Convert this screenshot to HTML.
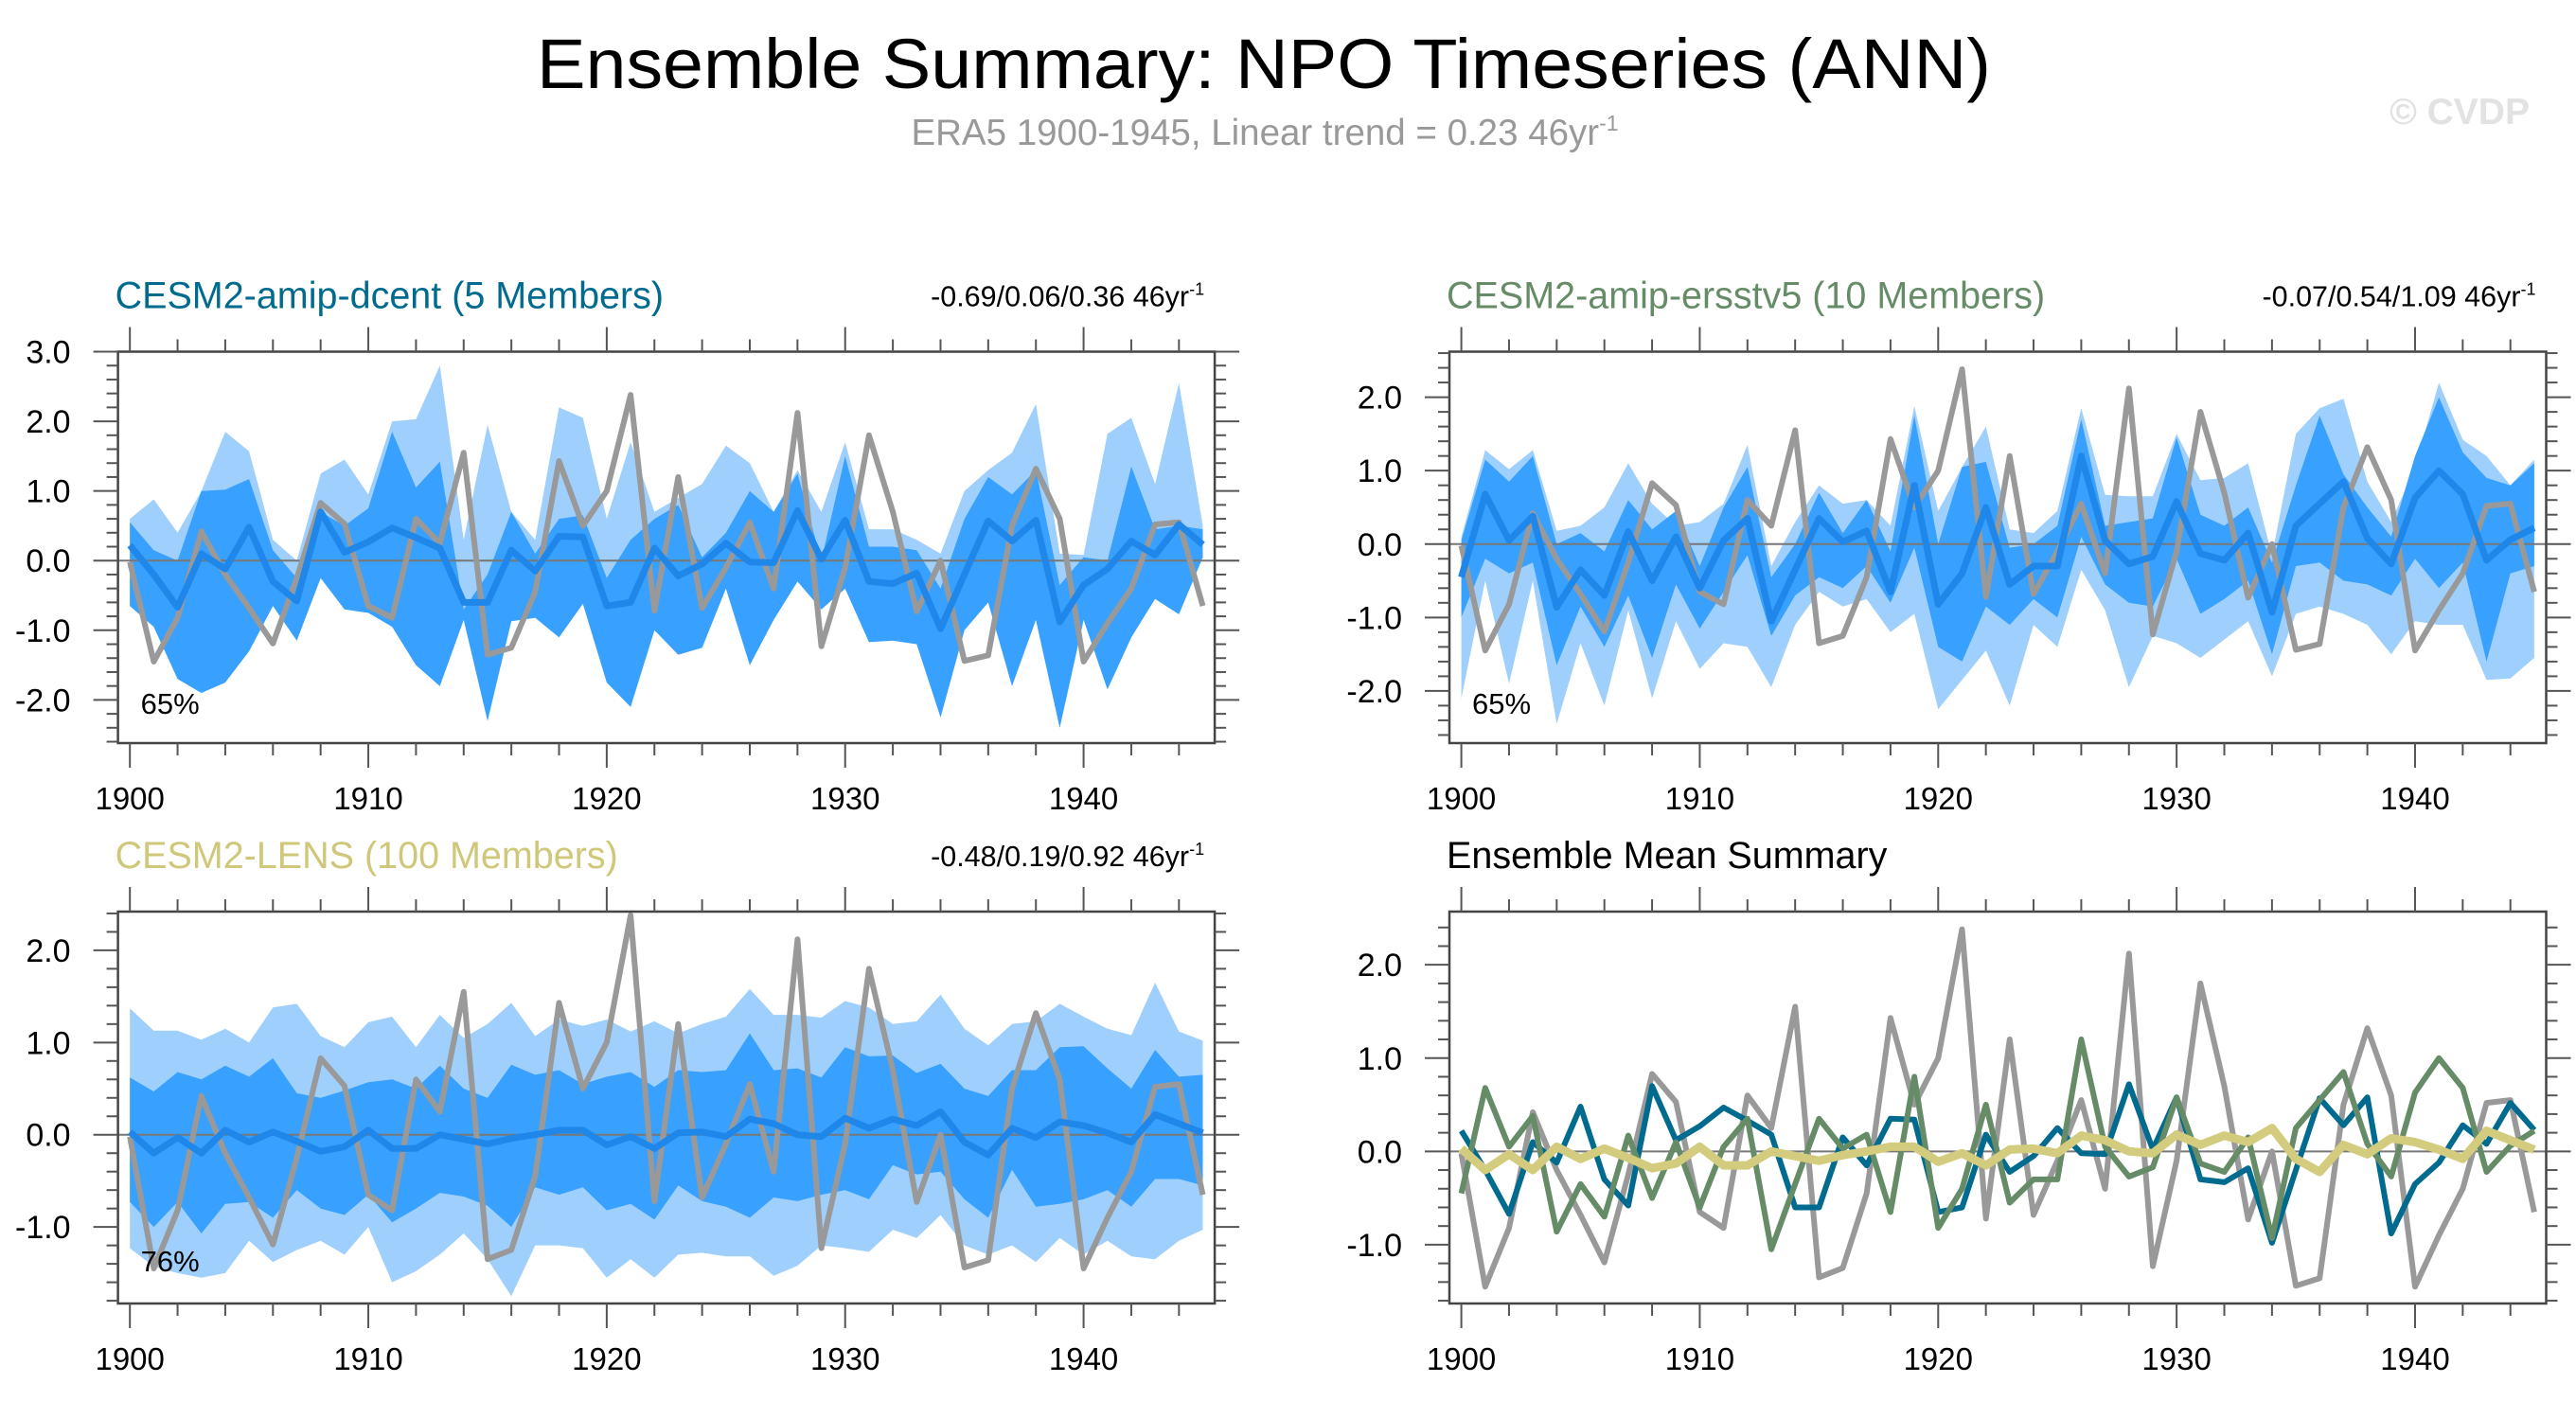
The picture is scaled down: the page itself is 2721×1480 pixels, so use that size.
<!DOCTYPE html>
<html><head><meta charset="utf-8">
<style>
html,body{margin:0;padding:0;background:#fff;}
svg{display:block;font-family:"Liberation Sans",Arial,sans-serif;}
</style></head>
<body>
<svg id="fig" width="2721" height="1480" viewBox="0 0 2721 1480" xmlns="http://www.w3.org/2000/svg">
<rect x="0" y="0" width="2721" height="1480" fill="#fff"/>
<text x="1335" y="93" font-size="74" text-anchor="middle" textLength="1536" lengthAdjust="spacingAndGlyphs" fill="#000">Ensemble Summary: NPO Timeseries (ANN)</text>
<text x="1336" y="153" font-size="38.5" text-anchor="middle" fill="#999">ERA5 1900-1945, Linear trend = 0.23 46yr<tspan dy="-15" font-size="23">-1</tspan></text>
<text x="2672" y="131" font-size="39" font-weight="bold" text-anchor="end" fill="#e2e2e2">© CVDP</text>
<g id="panels"></g>
</svg>
<script>
// ---------- data ----------
const years = [1900,1901,1902,1903,1904,1905,1906,1907,1908,1909,1910,1911,1912,1913,1914,1915,1916,1917,1918,1919,1920,1921,1922,1923,1924,1925,1926,1927,1928,1929,1930,1931,1932,1933,1934,1935,1936,1937,1938,1939,1940,1941,1942,1943,1944,1945];
const era5 = [-0.02,-1.45,-0.82,0.42,-0.2,-0.68,-1.19,-0.25,0.83,0.53,-0.65,-0.82,0.6,0.25,1.55,-1.35,-1.25,-0.45,1.43,0.5,1.0,2.38,-0.72,1.2,-0.68,-0.1,0.55,-0.4,2.12,-1.23,-0.1,1.8,0.7,-0.73,0.0,-1.44,-1.36,0.5,1.32,0.6,-1.45,-0.9,-0.4,0.52,0.55,-0.65];
const dcentMean = [0.22,-0.2,-0.67,0.1,-0.12,0.48,-0.3,-0.58,0.7,0.12,0.27,0.47,0.33,0.18,-0.6,-0.6,0.15,-0.15,0.35,0.34,-0.65,-0.6,0.18,-0.22,-0.05,0.25,-0.02,-0.03,0.72,0.02,0.58,-0.3,-0.33,-0.18,-0.98,-0.2,0.57,0.28,0.58,-0.88,-0.35,-0.12,0.28,0.08,0.52,0.23];
const dcentOuterHi = [0.6,0.88,0.4,1.0,1.85,1.57,0.3,0.0,1.25,1.45,0.95,2.0,2.03,2.8,0.3,1.95,0.7,0.3,2.2,2.05,0.6,1.7,0.7,0.9,1.1,1.65,1.4,0.7,1.3,0.7,1.7,0.45,0.45,0.3,0.1,1.0,1.3,1.55,2.25,0.1,0.08,1.82,2.05,1.1,2.55,0.5];
const dcentInnerHi = [0.55,0.15,0.0,1.0,1.02,1.17,0.15,-0.25,0.7,0.5,0.75,1.85,1.05,1.42,-0.7,-0.2,0.7,0.1,0.6,0.65,-0.25,0.3,0.6,0.8,0.05,0.4,1.0,0.7,1.25,0.0,1.5,0.2,0.2,0.15,-0.4,0.6,1.2,0.95,1.3,-0.35,0.05,0.0,1.35,0.45,0.5,0.45];
const dcentInnerLo = [-0.65,-0.95,-1.7,-1.9,-1.75,-1.3,-0.65,-1.15,-0.25,-0.7,-0.75,-0.95,-1.5,-1.8,-0.85,-2.3,-0.87,-0.82,-1.1,-0.62,-1.75,-2.1,-1.0,-1.35,-1.25,-0.4,-1.5,-0.85,-0.3,-0.7,-0.4,-1.17,-1.15,-1.2,-2.25,-1.0,-0.6,-1.8,-0.85,-2.4,-0.85,-1.85,-1.1,-0.55,-0.77,0.05];
const dcentOuterLo = [-0.65,-0.95,-1.7,-1.9,-1.75,-1.3,-0.65,-1.15,-0.25,-0.7,-0.75,-0.95,-1.5,-1.8,-0.85,-2.3,-0.87,-0.82,-1.1,-0.62,-1.75,-2.1,-1.0,-1.35,-1.25,-0.4,-1.5,-0.85,-0.3,-0.7,-0.4,-1.17,-1.15,-1.2,-2.25,-1.0,-0.6,-1.8,-0.85,-2.4,-0.85,-1.85,-1.1,-0.55,-0.77,0.05];
const ersstMean = [-0.45,0.68,0.05,0.38,-0.86,-0.35,-0.7,0.17,-0.5,0.1,-0.6,0.05,0.35,-1.05,-0.35,0.35,0.03,0.18,-0.65,0.8,-0.82,-0.4,0.5,-0.55,-0.3,-0.3,1.2,0.05,-0.27,-0.17,0.58,-0.13,-0.22,0.15,-0.93,0.25,0.55,0.85,0.08,-0.27,0.63,1.0,0.68,-0.22,0.06,0.22];
const ersstOuterHi = [0.1,1.28,1.02,1.28,0.18,0.25,0.5,1.1,0.55,0.25,0.3,0.55,1.35,-0.3,0.3,0.8,0.55,0.6,0.25,1.88,0.45,1.05,1.6,0.2,0.15,0.45,1.85,0.67,0.65,0.65,1.5,0.87,0.9,1.1,-0.15,1.5,1.85,1.98,0.85,0.3,1.05,2.2,1.42,1.2,0.8,1.15];
const ersstOuterLo = [-2.1,-0.5,-1.9,-0.5,-2.45,-1.35,-2.2,-0.9,-2.1,-1.05,-1.7,-1.35,-1.4,-1.95,-1.1,-0.65,-0.85,-0.75,-1.2,-0.95,-2.25,-1.85,-1.45,-2.2,-1.1,-1.4,-0.35,-0.9,-1.95,-1.25,-1.35,-1.55,-1.3,-1.05,-1.8,-0.95,-0.85,-0.95,-1.1,-1.5,-1.05,-1.1,-1.1,-1.85,-1.83,-1.55];
const ersstInnerHi = [0.05,1.15,0.85,1.2,0.0,0.15,-0.1,0.6,0.2,0.45,-0.3,0.5,1.05,-0.45,0.0,0.7,0.15,0.6,-0.1,1.75,0.0,1.05,1.12,-0.05,0.0,0.25,1.7,0.25,0.3,0.35,1.45,0.4,0.25,0.5,-0.25,0.8,1.75,0.95,0.5,0.1,1.2,2.0,1.25,0.9,0.8,1.1];
const ersstInnerLo = [-1.0,-0.2,-0.4,-0.25,-1.65,-0.85,-1.4,-0.7,-1.55,-0.55,-1.15,-0.65,-0.15,-1.25,-0.7,-0.45,-0.6,-0.3,-0.8,-0.05,-1.4,-1.6,-0.85,-1.1,-0.75,-1.0,0.1,-0.55,-0.8,-0.85,-0.2,-0.95,-0.75,-0.5,-1.5,-0.3,-0.25,-0.5,-0.55,-0.7,-0.2,-0.6,-0.25,-1.6,-0.4,-0.3];
const lensMean = [0.03,-0.2,-0.03,-0.2,0.05,-0.08,0.03,-0.07,-0.18,-0.13,0.05,-0.15,-0.15,0.0,-0.05,-0.1,-0.04,0.0,0.05,0.05,-0.11,-0.02,-0.15,0.02,0.03,-0.02,0.17,0.12,0.0,-0.02,0.18,0.07,0.17,0.1,0.25,-0.08,-0.22,0.07,-0.03,0.14,0.1,0.02,-0.08,0.22,0.12,0.02];
const lensOuterHi = [1.37,1.13,1.13,1.03,1.15,1.0,1.38,1.42,1.07,0.95,1.22,1.28,0.95,1.3,1.05,1.2,1.43,1.07,1.25,1.18,1.25,1.12,1.23,1.1,1.2,1.28,1.58,1.3,1.3,1.27,1.45,1.38,1.2,1.23,1.52,1.15,0.97,1.2,1.23,1.42,1.28,1.15,1.08,1.65,1.12,1.02];
const lensOuterLo = [-1.23,-1.43,-1.5,-1.55,-1.5,-1.15,-1.38,-1.25,-1.15,-1.3,-1.0,-1.6,-1.48,-1.3,-1.07,-1.35,-1.75,-1.2,-1.2,-1.23,-1.55,-1.35,-1.55,-1.3,-1.28,-1.32,-1.32,-1.53,-1.42,-1.2,-1.23,-1.27,-1.03,-1.12,-0.87,-1.2,-1.3,-1.2,-1.38,-1.12,-1.3,-1.15,-1.32,-1.35,-1.15,-1.03];
const lensInnerHi = [0.62,0.47,0.68,0.6,0.75,0.63,0.83,0.45,0.4,0.48,0.57,0.6,0.5,0.75,0.5,0.4,0.76,0.65,0.7,0.55,0.63,0.68,0.52,0.7,0.68,0.7,1.1,0.7,0.72,0.62,0.95,0.85,0.86,0.67,0.77,0.5,0.42,0.7,0.7,0.95,0.96,0.72,0.5,0.92,0.63,0.65];
const lensInnerLo = [-0.73,-1.0,-0.73,-1.07,-0.75,-0.73,-0.9,-0.6,-0.8,-0.87,-0.65,-0.95,-0.8,-0.63,-0.67,-0.77,-1.0,-0.57,-0.65,-0.57,-0.82,-0.75,-0.92,-0.55,-0.72,-0.78,-0.9,-0.68,-0.72,-0.65,-0.6,-0.7,-0.33,-0.43,-0.4,-0.7,-0.9,-0.38,-0.78,-0.75,-0.7,-0.6,-0.78,-0.48,-0.48,-0.55];
const xTickLabels = ["1900","1910","1920","1930","1940"];
const yLabelsP1 = ["3.0","2.0","1.0","0.0","-1.0","-2.0"];
const yLabelsP2 = ["2.0","1.0","0.0","-1.0","-2.0"];
const yLabelsP3 = ["2.0","1.0","0.0","-1.0"];
const yLabelsP4 = ["2.0","1.0","0.0","-1.0"];

// ---------- drawing ----------
const NS = "http://www.w3.org/2000/svg";
const root = document.getElementById("panels");
function mk(tag, attrs, parent){
  const e = document.createElementNS(NS, tag);
  for (const k in attrs) e.setAttribute(k, attrs[k]);
  (parent || root).appendChild(e);
  return e;
}
const C_LIGHT = "#9fd0fd", C_DARK = "#38a0fe", C_MEAN = "#1f87ea", C_ERA = "#999999";

function panel(p){
  const g = mk("g", {});
  
  
  const X = yr => p.x0 + (yr - 1899.5) / 46 * p.w;
  const Y = v => p.y0 + (p.ymax - v) / (p.ymax - p.ymin) * p.h;
  const line = arr => years.map((yr,i)=>X(yr).toFixed(1)+","+Y(arr[i]).toFixed(1)).join(" ");
  const band = (hi, lo) => years.map((yr,i)=>X(yr).toFixed(1)+","+Y(hi[i]).toFixed(1)).concat(
    years.slice().reverse().map((yr,j)=>{const i=years.length-1-j; return X(yr).toFixed(1)+","+Y(lo[i]).toFixed(1);})).join(" ");
  const cp = mk("clipPath", {id:"clip-"+p.name}, g);
  mk("rect", {x:p.x0, y:p.y0, width:p.w, height:p.h}, cp);
  const plot = mk("g", {"clip-path":"url(#clip-"+p.name+")"}, g);
  if (p.outerHi){
    const e = mk("polygon", {points: band(p.outerHi, p.outerLo), fill: C_LIGHT}, plot);
    
    
    const d = mk("polygon", {points: band(p.innerHi, p.innerLo), fill: C_DARK}, plot);
    
    
  }
  const z = mk("line", {x1:p.x0, x2:p.x0+p.w, y1:Y(0), y2:Y(0), stroke:"#777", "stroke-width":2}, plot);
  
  
  p.series.forEach(s=>{
    const l = mk("polyline", {points: line(s.data), fill:"none", stroke:s.color, "stroke-width":s.w, "stroke-linejoin":"round"}, plot);
    
    
  });
  const box = mk("rect", {x:p.x0, y:p.y0, width:p.w, height:p.h, fill:"none", stroke:"#444", "stroke-width":2.5}, g);
  
  
  for (let yr=1900; yr<=1944; yr+=2){
    const major = yr % 10 === 0;
    const L = major ? 26 : 13;
    const t1 = mk("line", {x1:X(yr), x2:X(yr), y1:p.y0, y2:p.y0-L, stroke:"#555", "stroke-width":2}, g);
    
    
    const t2 = mk("line", {x1:X(yr), x2:X(yr), y1:p.y0+p.h, y2:p.y0+p.h+L, stroke:"#555", "stroke-width":2}, g);
    
    
  }
  xTickLabels.forEach(lbl=>{
    const t = mk("text", {x:X(+lbl), y:p.y0+p.h+70, "font-size":33, "text-anchor":"middle", fill:"#000"}, g);
    t.textContent = lbl;
    
    
  });
  for (let k=Math.ceil(p.ymin/0.2 - 1e-6); k*0.2 <= p.ymax + 1e-6; k++){
    const v = k*0.2;
    const major = Math.abs(v - Math.round(v)) < 1e-6;
    const L = major ? 26 : 12;
    const a = mk("line", {x1:p.x0, x2:p.x0-L, y1:Y(v), y2:Y(v), stroke:"#555", "stroke-width":2}, g);
    
    
    const b = mk("line", {x1:p.x0+p.w, x2:p.x0+p.w+L, y1:Y(v), y2:Y(v), stroke:"#555", "stroke-width":2}, g);
    
    
  }
  p.yLabels.forEach(lbl=>{
    const t = mk("text", {x:p.x0-50, y:Y(parseFloat(lbl))+12, "font-size":34, "text-anchor":"end", fill:"#000"}, g);
    t.textContent = lbl;
    
    
  });
  const title = mk("text", {x:p.x0-3, y:p.y0-46, "font-size":39.5, fill:p.titleColor}, g);
  title.textContent = p.title;
  
  
  if (p.stats){
    const st = mk("text", {x:p.x0+p.w-11, y:p.y0-48, "font-size":30.5, "text-anchor":"end", fill:"#000"}, g);
    st.textContent = p.stats;
    const sup = mk("tspan", {dy:-12, "font-size":18}, st);
    sup.textContent = "-1";
    
    
  }
  if (p.pct){
    const pt = mk("text", {x:p.x0+24, y:p.pctY, "font-size":31, fill:"#000"}, g);
    pt.textContent = p.pct;
    
    
  }
}

panel({name:"panel-cesm2-amip-dcent", x0:124.6, y0:371.5, w:1158.5, h:413.5, ymin:-2.62, ymax:3.0,
  yLabels:yLabelsP1, title:"CESM2-amip-dcent (5 Members)", titleColor:"#006b8f", stats:"-0.69/0.06/0.36 46yr",
  outerHi:dcentOuterHi, outerLo:dcentOuterLo, innerHi:dcentInnerHi, innerLo:dcentInnerLo, pct:"65%", pctY:754,
  series:[{name:"era5-line", data:era5, color:C_ERA, w:6},{name:"ensemble-mean-line", data:dcentMean, color:C_MEAN, w:7}]});
panel({name:"panel-cesm2-amip-ersstv5", x0:1531, y0:371.5, w:1158.5, h:413.5, ymin:-2.71, ymax:2.62,
  yLabels:yLabelsP2, title:"CESM2-amip-ersstv5 (10 Members)", titleColor:"#658c66", stats:"-0.07/0.54/1.09 46yr",
  outerHi:ersstOuterHi, outerLo:ersstOuterLo, innerHi:ersstInnerHi, innerLo:ersstInnerLo, pct:"65%", pctY:754,
  series:[{name:"era5-line", data:era5, color:C_ERA, w:6},{name:"ensemble-mean-line", data:ersstMean, color:C_MEAN, w:7}]});
panel({name:"panel-cesm2-lens", x0:124.6, y0:963, w:1158.5, h:414, ymin:-1.83, ymax:2.42,
  yLabels:yLabelsP3, title:"CESM2-LENS (100 Members)", titleColor:"#cfc77a", stats:"-0.48/0.19/0.92 46yr",
  outerHi:lensOuterHi, outerLo:lensOuterLo, innerHi:lensInnerHi, innerLo:lensInnerLo, pct:"76%", pctY:1343,
  series:[{name:"era5-line", data:era5, color:C_ERA, w:6},{name:"ensemble-mean-line", data:lensMean, color:C_MEAN, w:7}]});
panel({name:"panel-ensemble-mean-summary", x0:1531, y0:963, w:1158.5, h:414, ymin:-1.63, ymax:2.57,
  yLabels:yLabelsP4, title:"Ensemble Mean Summary", titleColor:"#000",
  series:[{name:"era5-line", data:era5, color:C_ERA, w:6},
          {name:"dcent-mean-line", data:dcentMean, color:"#006b8f", w:6},
          {name:"ersstv5-mean-line", data:ersstMean, color:"#658c66", w:6},
          {name:"lens-mean-line", data:lensMean, color:"#d3cb7d", w:9}]});
</script>
</body></html>
